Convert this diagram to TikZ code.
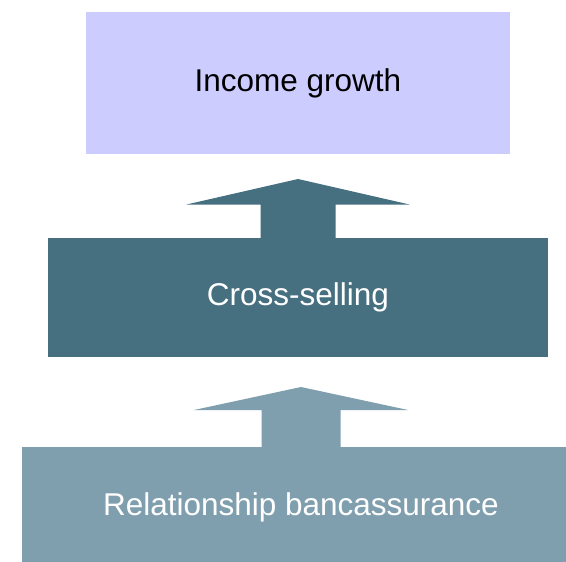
\documentclass[tikz,border=0pt]{standalone}
\usepackage{fontspec}
\setmainfont{Liberation Sans}
\usetikzlibrary{calc}
\definecolor{goalfill}{HTML}{CCCCFF}
\definecolor{darkteal}{HTML}{466F80}
\definecolor{lightteal}{HTML}{7F9FAF}
\tikzset{
  level/.style={rectangle, inner sep=0pt, outer sep=0pt,
    font=\fontsize{31.5}{36}\selectfont},
  blockarrow/.style={draw=none}
}
\begin{document}
\begin{tikzpicture}[x=1pt,y=-1pt]
  \useasboundingbox (0,0) rectangle (566,562);
  \clip (0,0) rectangle (566,562);
  % three stacked levels
  \node[level, fill=goalfill, text=black, minimum width=424pt, minimum height=142pt]
    (goal) at (298,83) {Income growth};
  \node[level, fill=darkteal, text=white, minimum width=500pt, minimum height=119pt]
    (cross) at (298,297.5) {Cross-selling};
  \node[level, fill=lightteal, text=white, minimum width=558pt, minimum height=120pt]
    (base) at (301,507) {Relationship bancassurance};
  % block arrow from Cross-selling up towards Income growth
  \fill[blockarrow, darkteal]
    ($(cross.north)+(-37.5,0)$) -- ($(cross.north)+(-37.5,-33.5)$)
    -- ($(cross.north)+(-111.5,-33.5)$) -- ($(cross.north)+(0,-59)$)
    -- ($(cross.north)+(111.5,-33.5)$) -- ($(cross.north)+(37.5,-33.5)$)
    -- ($(cross.north)+(37.5,0)$) -- cycle;
  % block arrow from Relationship bancassurance up towards Cross-selling
  \fill[blockarrow, lightteal]
    ($(base.north)+(-39.5,0)$) -- ($(base.north)+(-39.5,-37)$)
    -- ($(base.north)+(-107,-37)$) -- ($(base.north)+(0,-60)$)
    -- ($(base.north)+(107,-37)$) -- ($(base.north)+(39.5,-37)$)
    -- ($(base.north)+(39.5,0)$) -- cycle;
\end{tikzpicture}
\end{document}
